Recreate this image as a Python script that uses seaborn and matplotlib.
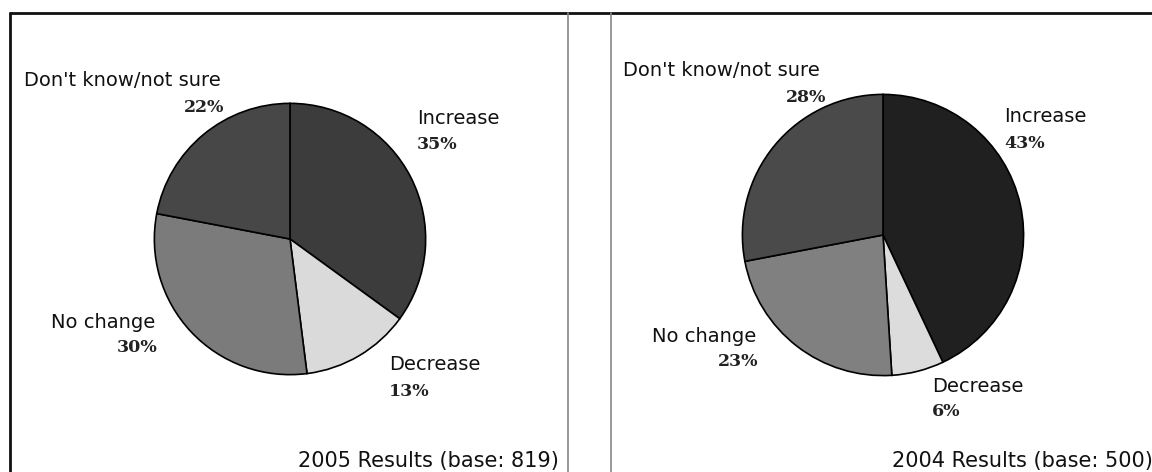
import matplotlib
matplotlib.use("Agg")
import matplotlib.pyplot as plt
from matplotlib.lines import Line2D
import seaborn as sns

# Survey answers, clockwise from 12 o'clock
categories = ["Increase", "Decrease", "No change", "Don't know/not sure"]
shares_2005 = [35, 13, 30, 22]
shares_2004 = [43, 6, 23, 28]
base_2005 = 819
base_2004 = 500

colors_2005 = ["#3c3c3c", "#dadada", "#7b7b7b", "#474747"]
colors_2004 = ["#202020", "#dcdcdc", "#808080", "#4a4a4a"]

sns.set_theme(style="white")
plt.rcParams["font.family"] = ["DejaVu Sans"]

W, H = 1152, 472
fig = plt.figure(figsize=(W / 100, H / 100), dpi=100)
fig.patch.set_facecolor("white")


def px(x, y):
    """Pixel position (from top-left) to figure fraction."""
    return x / W, 1 - y / H


LABEL = dict(fontsize=14, color="#111111", family="DejaVu Sans")
PCT = dict(fontsize=12.5, color="#222222", family="DejaVu Serif", weight="bold")


def draw_panel(shares, colors, cx, cy, r, spots, caption, caption_x):
    ax = fig.add_axes([(cx - r) / W, (H - cy - r) / H, 2 * r / W, 2 * r / H])
    ax.pie(shares, colors=colors, startangle=90, counterclock=False,
           radius=1, wedgeprops=dict(edgecolor="black", linewidth=1.2))
    # pie() pads the limits; pin them so the disc fills its box
    ax.set_xlim(-1.01, 1.01)
    ax.set_ylim(-1.01, 1.01)
    ax.axis("off")
    for (name, val, (lx, ly, vx, vy, ha)) in zip(categories, shares, spots):
        fig.text(*px(lx, ly), name, ha="left", va="center", **LABEL)
        fig.text(*px(vx, vy), f"{val}%", ha=ha, va="center", **PCT)
    fig.text(*px(caption_x, 461), caption, ha="right", va="center",
             fontsize=15, color="#111111")


# label x, label y, value x, value y, value alignment
spots_2005 = [
    (417, 118, 417, 144, "left"),
    (389, 365, 389, 392, "left"),
    (51, 322, 157, 348, "right"),
    (24, 80, 224, 108, "right"),
]
spots_2004 = [
    (1004, 117, 1004, 143, "left"),
    (932, 386, 932, 412, "left"),
    (652, 337, 758, 362, "right"),
    (623, 70, 826, 97, "right"),
]

draw_panel(shares_2005, colors_2005, 290, 239, 137, spots_2005,
           f"2005 Results (base: {base_2005})", 559)
draw_panel(shares_2004, colors_2004, 883, 235, 142, spots_2004,
           f"2004 Results (base: {base_2004})", 1153)

# Panel frame: heavy rule across the top and down the left, thin dividers
frame = [
    ((10, 13), (W, 13), "#111111", 2.0),
    ((10, 13), (10, H), "#111111", 2.0),
    ((568, 13), (568, H), "#888888", 1.2),
    ((611, 13), (611, H), "#888888", 1.2),
]
for (x0, y0), (x1, y1), c, lw in frame:
    a, b = px(x0, y0)
    c2, d = px(x1, y1)
    fig.add_artist(Line2D([a, c2], [b, d], color=c, linewidth=lw,
                          transform=fig.transFigure))

fig.savefig("out.png", dpi=100, facecolor="white")
